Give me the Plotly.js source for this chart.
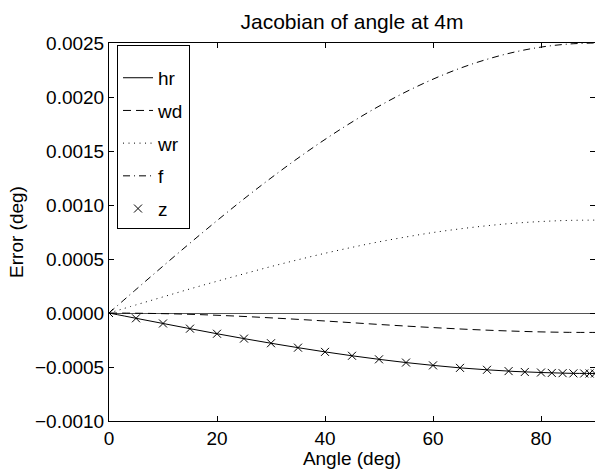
<!DOCTYPE html>
<html>
<head>
<meta charset="utf-8">
<script src="https://cdn.plot.ly/plotly-3.0.1.min.js"></script>
<style>html,body{margin:0;padding:0;background:#fff;}#chart{width:595px;height:469px;}</style>
</head>
<body>
<div id="chart"></div>
<script>
// Angle grid (deg) for the curves
const angle = [0,5,10,15,20,25,30,35,40,45,50,55,60,65,70,75,80,85,90];
// Series values (deg)
const hr = [0,-0.000049,-0.000097,-0.000145,-0.000192,-0.000237,-0.00028,-0.000321,-0.00036,-0.000396,-0.000429,-0.000459,-0.000485,-0.000508,-0.000526,-0.000541,-0.000551,-0.000558,-0.00056];
const wd = [0,-0.000002,-0.000006,-0.000012,-0.000021,-0.000032,-0.000045,-0.000059,-0.000074,-0.00009,-0.000106,-0.000121,-0.000135,-0.000148,-0.000159,-0.000168,-0.000175,-0.000179,-0.00018];
const wr = [0,0.000075,0.000149,0.000223,0.000294,0.000363,0.00043,0.000493,0.000553,0.000608,0.000659,0.000704,0.000745,0.000779,0.000808,0.000831,0.000847,0.000857,0.00086];
const f  = [0,0.000218,0.000434,0.000647,0.000855,0.001057,0.00125,0.001434,0.001607,0.001768,0.001915,0.002048,0.002165,0.002266,0.002349,0.002415,0.002462,0.00249,0.0025];
// z markers
const zAngle = [0,5,10,15,20,25,30,35,40,45,50,55,60,65,70,74,77,80,82,84,86,88,89,90];
const z = [0,-0.000049,-0.000097,-0.000145,-0.000192,-0.000237,-0.00028,-0.000321,-0.00036,-0.000396,-0.000429,-0.000459,-0.000485,-0.000508,-0.000526,-0.000538,-0.000546,-0.000551,-0.000555,-0.000557,-0.000559,-0.00056,-0.00056,-0.00056];

const xTicks = [0,20,40,60,80];
const yTicks = [-0.001,-0.0005,0,0.0005,0.001,0.0015,0.002,0.0025];

const FONT = 'Liberation Sans, Arial, Helvetica, sans-serif';
const base = {type:'scatter', mode:'lines', x: angle};

const traces = [
  Object.assign({}, base, {name:'hr', y: hr, legendgroup:'a', line:{color:'#000', width:1, shape:'spline'}}),
  Object.assign({}, base, {name:'wd', y: wd, legendgroup:'b', line:{color:'#000', width:1, shape:'spline', dash:'8px,5px'}}),
  Object.assign({}, base, {name:'wr', y: wr, legendgroup:'c', line:{color:'#000', width:1, shape:'spline', dash:'1px,4.5px'}}),
  Object.assign({}, base, {name:'f', y: f, legendgroup:'d', line:{color:'#000', width:1, shape:'spline', dash:'7px,4px,1px,4px'}}),
  {type:'scatter', mode:'markers', name:'z', x: zAngle, y: z, legendgroup:'e',
   marker:{symbol:'x-thin', size:8, color:'#000', line:{color:'#000', width:1}}}
];

const layout = {
  width:595, height:469,
  margin:{l:109, r:0, t:43, b:48},
  paper_bgcolor:'#fff', plot_bgcolor:'#fff',
  font:{family:FONT, size:19, color:'#000'},
  showlegend:true,
  title:{text:'Jacobian of angle at 4m', font:{family:FONT, size:21, color:'#000'},
         x:0.5, xref:'paper', xanchor:'center', y:22, yref:'container', yanchor:'middle'},
  legend:{x:0.0165, y:0.995, xanchor:'left', yanchor:'top', bgcolor:'#fff',
          bordercolor:'#000', borderwidth:1, font:{family:FONT, size:19, color:'#000'},
          tracegroupgap:5, itemwidth:30,
          title:{text:'.', font:{family:FONT, size:10, color:'#fff'}}},
  xaxis:{range:[0,90], tickvals:xTicks, ticks:'inside', ticklen:5, tickcolor:'#000',
         showline:true, linecolor:'#000', linewidth:1, mirror:'ticks', showgrid:false, zeroline:false,
         tickfont:{family:FONT, size:19, color:'#000'},
         title:{text:'Angle (deg)', font:{family:FONT, size:19, color:'#000'}, standoff:2}},
  yaxis:{range:[-0.001,0.0025], tickvals:yTicks, tickformat:'.4f', ticks:'inside', ticklen:5, tickcolor:'#000',
         showline:true, linecolor:'#000', linewidth:1, mirror:'ticks', showgrid:false,
         zeroline:true, zerolinecolor:'#555', zerolinewidth:1,
         tickfont:{family:FONT, size:19, color:'#000'},
         title:{text:'Error (deg)', font:{family:FONT, size:19, color:'#000'}, standoff:6}}
};

Plotly.newPlot('chart', traces, layout, {displayModeBar:false, staticPlot:true});
</script>
</body>
</html>
